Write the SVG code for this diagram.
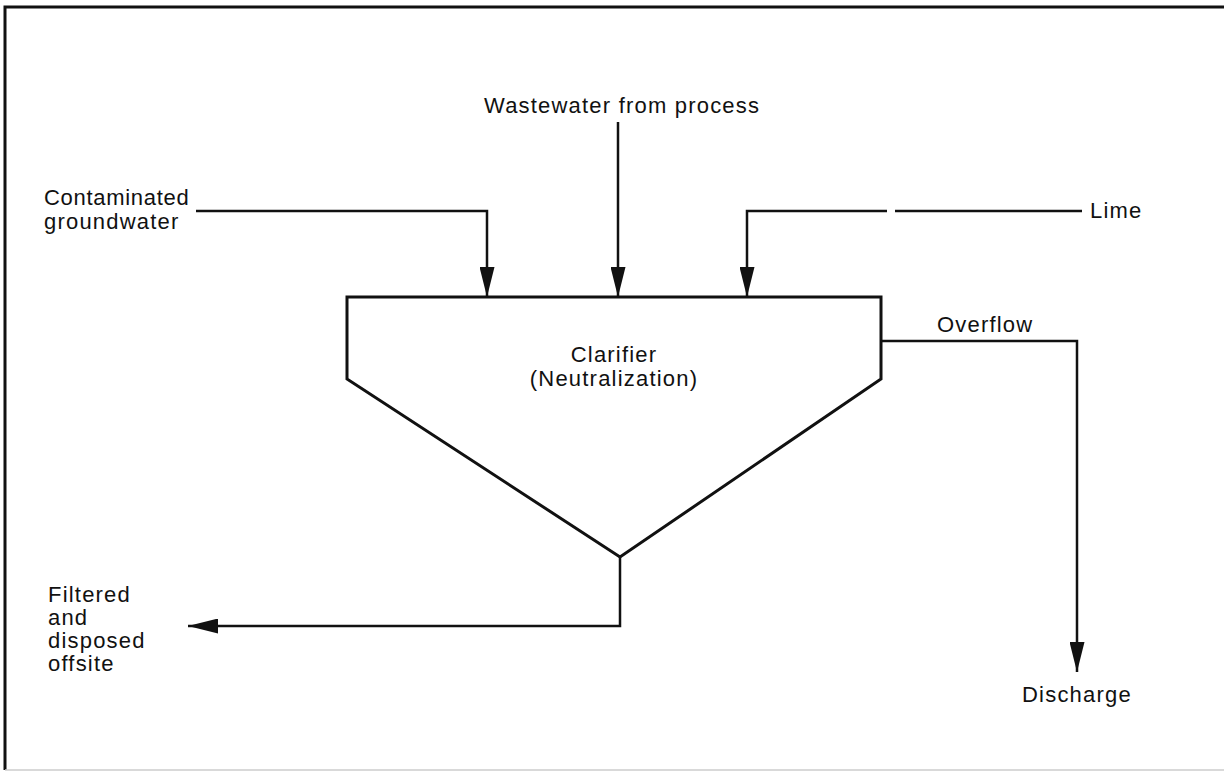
<svg xmlns="http://www.w3.org/2000/svg" width="1224" height="772" viewBox="0 0 1224 772">
<style>
.t{font-family:"Liberation Sans",Arial,sans-serif;font-size:22px;fill:#111;letter-spacing:1.2px}
.ln{fill:none;stroke:#111;stroke-width:2.5;stroke-linejoin:miter}
.box{fill:none;stroke:#111;stroke-width:3;stroke-linejoin:miter}
.frame{fill:none;stroke:#111;stroke-width:3}
</style>
<defs>
<marker id="ah" markerWidth="30" markerHeight="15" refX="30" refY="7.5" orient="auto" markerUnits="userSpaceOnUse" viewBox="0 0 30 15">
<path d="M0,0 L30,7.5 L0,15 Z" fill="#111"/>
</marker>
</defs>
<rect width="1224" height="772" fill="#fff"/>
<g id="frame">
<path class="frame" d="M5,770 L5,7 L1224,7"/>
<line x1="5" y1="770" x2="1224" y2="770" stroke="#ccc" stroke-width="1.5"/>
</g>
<g id="clarifier">
<path class="box" d="M347,297 L881,297 L881,379 L620,557 L347,379 Z"/>
<text class="t" x="614" y="362" text-anchor="middle">Clarifier</text>
<text class="t" x="614" y="386" text-anchor="middle">(Neutralization)</text>
</g>
<g id="wastewater">
<text class="t" x="484" y="113">Wastewater from process</text>
</g>
<g id="groundwater">
<text class="t" x="44" y="205" style="letter-spacing:0.7px">Contaminated</text>
<text class="t" x="44" y="229">groundwater</text>
</g>
<g id="lime">
<text class="t" x="1090" y="218">Lime</text>
</g>
<g id="overflow">
<text class="t" x="937" y="332">Overflow</text>
</g>
<g id="sludge">
<text class="t" x="48" y="602">Filtered</text>
<text class="t" x="48" y="625">and</text>
<text class="t" x="48" y="648">disposed</text>
<text class="t" x="48" y="671">offsite</text>
</g>
<g id="discharge">
<text class="t" x="1022" y="702">Discharge</text>
</g>
<g id="connectors">
<path class="ln" d="M196,211 L487,211 L487,297" marker-end="url(#ah)"/>
<path class="ln" d="M618,122 L618,297" marker-end="url(#ah)"/>
<path class="ln" d="M1082,211 L895,211"/>
<path class="ln" d="M887,211 L747,211 L747,297" marker-end="url(#ah)"/>
<path class="ln" d="M881,341 L1077,341 L1077,672" marker-end="url(#ah)"/>
<path class="ln" d="M620,557 L620,626 L188,626" marker-end="url(#ah)"/>
</g>
</svg>
